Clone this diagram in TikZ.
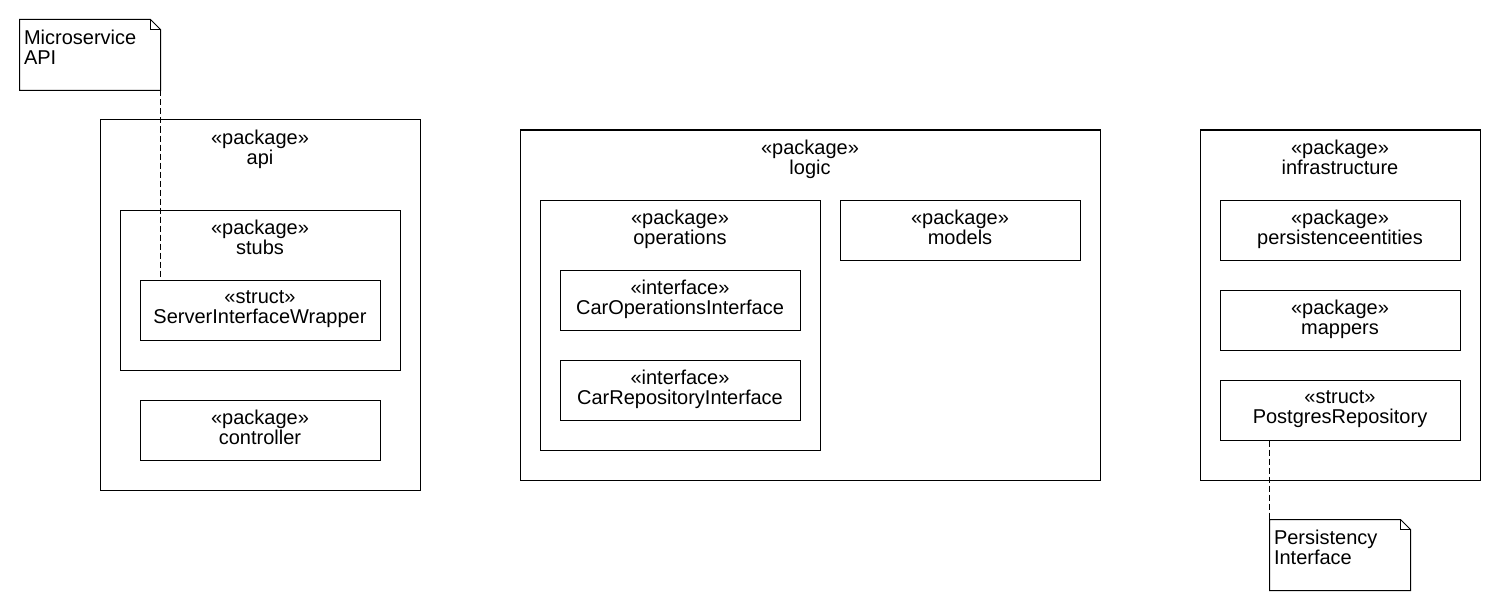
\documentclass[tikz,border=0pt]{standalone}
\usepackage{fontspec}
\setmainfont{Liberation Sans}
\usetikzlibrary{fit}

\begin{document}
\begin{tikzpicture}[x=0.75pt, y=-0.75pt, line width=0.75pt,
  font=\fontsize{15}{15}\selectfont,
  pkgbox/.style={draw, inner sep=0pt},
  elem/.style={draw, minimum width=180pt, minimum height=45pt, inner sep=0pt},
  title/.style={anchor=north, yshift=-7.6pt, inner sep=0pt, align=center},
  notebox/.style={inner sep=0pt},
  notetext/.style={anchor=north west, inner sep=0pt, align=left},
  link/.style={dash pattern=on 4.5pt off 2.25pt}]

\useasboundingbox (0,0) rectangle (1500,610);

% ----- Package api -----
\node[pkgbox, fit={(100,120) (420,490)}, label={[title]north:{«package»\\api}}] (api) {};
\node[pkgbox, fit={(120,210) (400,370)}, label={[title]north:{«package»\\stubs}}] (stubs) {};
\node[elem, label={[title]north:{«struct»\\ServerInterfaceWrapper}}] (wrapper) at (260,310) {};
\node[elem, label={[title]north:{«package»\\controller}}] (controller) at (260,430) {};

% ----- Package logic -----
\node[pkgbox, fit={(520,130) (1100,480)}, label={[title]north:{«package»\\logic}}] (logic) {};
\node[pkgbox, fit={(540,200) (820,450)}, label={[title]north:{«package»\\operations}}] (operations) {};
\node[elem, label={[title]north:{«interface»\\CarOperationsInterface}}] (carops) at (680,300) {};
\node[elem, label={[title]north:{«interface»\\CarRepositoryInterface}}] (carrepo) at (680,390) {};
\node[elem, label={[title]north:{«package»\\models}}] (models) at (960,230) {};

% ----- Package infrastructure -----
\node[pkgbox, fit={(1200,130) (1480,480)}, label={[title]north:{«package»\\infrastructure}}] (infra) {};
\node[elem, label={[title]north:{«package»\\persistenceentities}}] (entities) at (1340,230) {};
\node[elem, label={[title]north:{«package»\\mappers}}] (mappers) at (1340,320) {};
\node[elem, label={[title]north:{«struct»\\PostgresRepository}}] (postgres) at (1340,410) {};

% ----- Notes -----
\node[notebox, fit={(20,20) (160,90)}] (noteapi) {};
\node[notebox, fit={(1270,520) (1410,590)}] (notepers) {};
\foreach \n in {noteapi, notepers}{
  \draw (\n.north west) -- ([xshift=-7.5pt]\n.north east) -- ([yshift=-7.5pt]\n.north east)
    -- (\n.south east) -- (\n.south west) -- cycle;
  \draw ([xshift=-7.5pt]\n.north east) |- ([yshift=-7.5pt]\n.north east);
}
\node[notetext] at ([xshift=3pt, yshift=-7.3pt]noteapi.north west) {Microservice\\API};
\node[notetext] at ([xshift=3pt, yshift=-7.3pt]notepers.north west) {Persistency\\Interface};

% ----- Note links -----
\draw[link] (noteapi.south east) -- (noteapi.south east |- wrapper.north);
\draw[link] (postgres.south -| notepers.north west) -- (notepers.north west);
\end{tikzpicture}
\end{document}
